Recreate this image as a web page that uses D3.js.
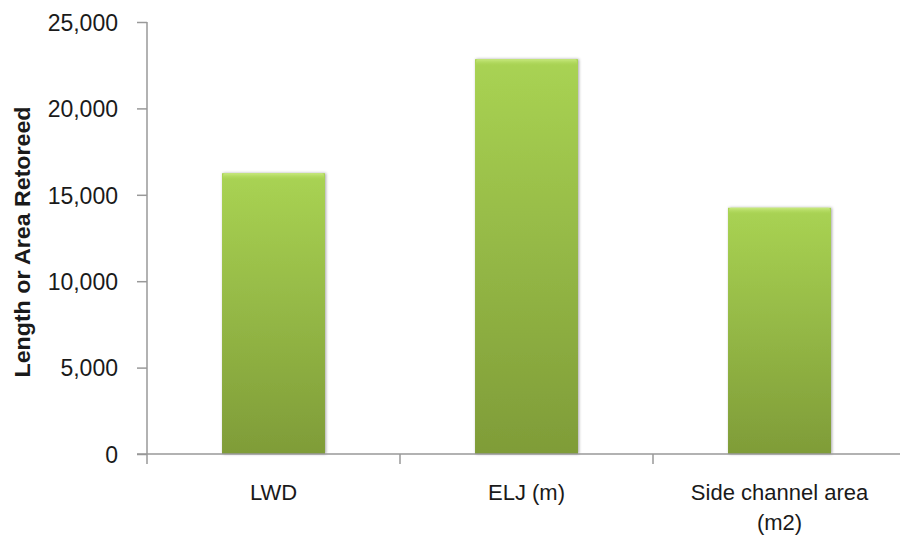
<!DOCTYPE html>
<html>
<head>
<meta charset="utf-8">
<script src="https://cdn.jsdelivr.net/npm/d3@7"></script>
<style>
  body { margin: 0; background: #fff; }
  text { font-family: "Liberation Sans", Arial, sans-serif; fill: #1a1a1a; }
</style>
</head>
<body>
<div id="chart"></div>
<script>
"use strict";

// chart data
const categories = [["LWD"], ["ELJ (m)"], ["Side channel area", "(m2)"]];
const values = [16250, 22850, 14250];
const yTicks = [0, 5000, 10000, 15000, 20000, 25000];
const yTitle = "Length or Area Retoreed";

const msm = {
  width: 900,
  height: 539,
  left: 147,
  right: 906,
  top: 22,
  bottom: 454
};

const svg = d3.select("#chart")
  .append("svg")
  .attr("width", msm.width)
  .attr("height", msm.height);

const defs = svg.append("defs");

// bar fill, light top to darker bottom
const grad = defs.append("linearGradient")
  .attr("id", "barGrad")
  .attr("x1", 0).attr("y1", 0).attr("x2", 0).attr("y2", 1);
grad.append("stop").attr("offset", "0%").attr("stop-color", "#a9d353");
grad.append("stop").attr("offset", "100%").attr("stop-color", "#7f9c38");

// bevel at top of bars
const bevel = defs.append("linearGradient")
  .attr("id", "bevelGrad")
  .attr("x1", 0).attr("y1", 0).attr("x2", 0).attr("y2", 1);
bevel.append("stop").attr("offset", "0%").attr("stop-color", "#c9ea80");
bevel.append("stop").attr("offset", "100%").attr("stop-color", "#a9d353").attr("stop-opacity", 0);

const shadow = defs.append("filter")
  .attr("id", "shadow")
  .attr("x", "-10%").attr("y", "-5%").attr("width", "125%").attr("height", "110%");
shadow.append("feDropShadow")
  .attr("dx", 1).attr("dy", 0)
  .attr("stdDeviation", 1.5)
  .attr("flood-color", "#000")
  .attr("flood-opacity", 0.35);

const xScale = d3.scaleBand()
  .domain(d3.range(categories.length))
  .range([msm.left, msm.right])
  .paddingInner(0.593)
  .paddingOuter(0.2965);

const yScale = d3.scaleLinear()
  .domain([0, 25000])
  .range([msm.bottom, msm.top]);

// bars
const bars = svg.selectAll(".bar")
  .data(values)
  .enter()
  .append("g")
  .attr("class", "bar");

bars.append("rect")
  .attr("x", (d, i) => xScale(i))
  .attr("y", d => yScale(d))
  .attr("width", xScale.bandwidth())
  .attr("height", d => yScale(0) - yScale(d))
  .attr("fill", "url(#barGrad)")
  .attr("filter", "url(#shadow)");

bars.append("rect")
  .attr("x", (d, i) => xScale(i) + 1)
  .attr("y", d => yScale(d))
  .attr("width", xScale.bandwidth() - 2)
  .attr("height", 7)
  .attr("rx", 2)
  .attr("fill", "url(#bevelGrad)");

// y axis
const yAxis = d3.axisLeft(yScale)
  .tickValues(yTicks)
  .tickSize(10)
  .tickPadding(19)
  .tickFormat(d3.format(","));

const gy = svg.append("g")
  .attr("transform", "translate(" + msm.left + ",0)")
  .call(yAxis);
gy.select(".domain").attr("stroke", "#999").attr("stroke-width", 1.5)
  .attr("d", "M0," + msm.top + "V" + msm.bottom);
gy.selectAll(".tick line").attr("stroke", "#999").attr("stroke-width", 1.5);
gy.selectAll(".tick text")
  .style("font-size", "23px")
  .attr("dy", "0.36em");

// x axis line and category boundary ticks
svg.append("line")
  .attr("x1", msm.left - 10).attr("x2", msm.width)
  .attr("y1", msm.bottom).attr("y2", msm.bottom)
  .attr("stroke", "#999").attr("stroke-width", 1.5);

const step = xScale.step();
svg.selectAll(".xtick")
  .data(d3.range(categories.length))
  .enter()
  .append("line")
  .attr("x1", i => msm.left + i * step)
  .attr("x2", i => msm.left + i * step)
  .attr("y1", msm.bottom)
  .attr("y2", msm.bottom + 10)
  .attr("stroke", "#999").attr("stroke-width", 1.5);

// category labels
const labels = svg.selectAll(".xlabel")
  .data(categories)
  .enter()
  .append("text")
  .attr("class", "xlabel")
  .attr("text-anchor", "middle")
  .style("font-size", "22px")
  .attr("transform", (d, i) => "translate(" + (xScale(i) + xScale.bandwidth() / 2) + ",500)");

labels.selectAll("tspan")
  .data(d => d)
  .enter()
  .append("tspan")
  .attr("x", 0)
  .attr("y", (d, j) => j * 30)
  .text(d => d);

// y title
svg.append("text")
  .attr("transform", "translate(30,242)rotate(-90)")
  .attr("text-anchor", "middle")
  .style("font-size", "22px")
  .style("font-weight", "bold")
  .attr("textLength", 271)
  .attr("lengthAdjust", "spacingAndGlyphs")
  .text(yTitle);
</script>
</body>
</html>
